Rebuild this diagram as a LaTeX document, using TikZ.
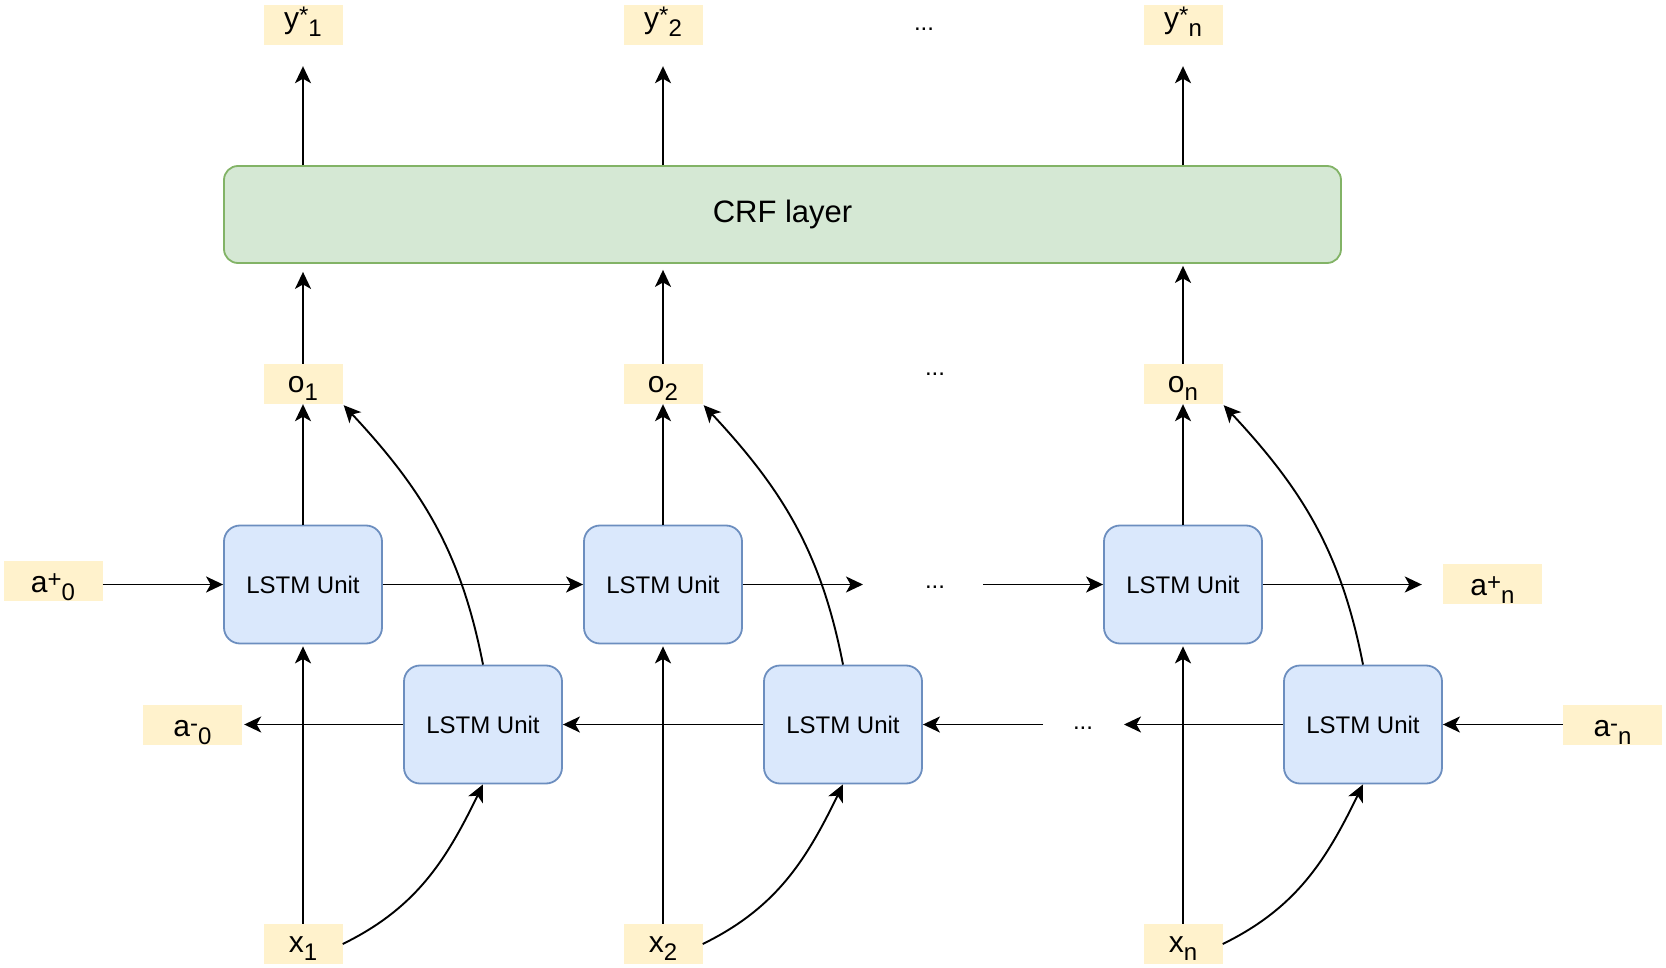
\documentclass[tikz,border=0pt]{standalone}
\usepackage{fontspec}
\setmainfont{Liberation Sans}
\usetikzlibrary{arrows.meta}
\definecolor{labfill}{HTML}{FFF2CC}
\definecolor{lstmfill}{HTML}{DAE8FC}
\definecolor{lstmline}{HTML}{6C8EBF}
\definecolor{crffill}{HTML}{D5E8D4}
\definecolor{crfline}{HTML}{82B366}
\newcommand\mysub[1]{\raisebox{-8pt}{\fontsize{24}{24}\selectfont #1}}
\newcommand\mysup[1]{\raisebox{5pt}{\fontsize{24}{24}\selectfont #1}}
\tikzset{
  lab/.style={fill=labfill, inner sep=0pt, minimum width=79pt, minimum height=40pt,
    font=\fontsize{30}{30}\selectfont, text height=22pt, text depth=6pt},
  widelab/.style={lab, minimum width=99pt},
  lstm/.style={draw=lstmline, fill=lstmfill, line width=1.8pt, rounded corners=16pt,
    minimum width=158pt, minimum height=118pt, inner sep=0pt, font=\fontsize{24}{24}\selectfont},
  crf/.style={draw=crfline, fill=crffill, line width=1.8pt, rounded corners=14pt,
    minimum width=1117pt, minimum height=97pt, inner sep=0pt, font=\fontsize{31}{31}\selectfont},
  dotsnode/.style={inner sep=0pt, font=\fontsize{24}{24}\selectfont, anchor=base},
  arr/.style={line width=1.9pt, -{Stealth[length=17pt, width=16pt, inset=4.5pt]}},
}
\begin{document}
\begin{tikzpicture}[x=1pt, y=-1pt]
\useasboundingbox (0,0) rectangle (1666,968);
% top labels
\node[lab, text height=18pt, text depth=10pt] (y1) at (303,25) {y\mysup{*}\mysub{1}};
\node[lab, text height=18pt, text depth=10pt] (y2) at (663,25) {y\mysup{*}\mysub{2}};
\node[lab, text height=18pt, text depth=10pt] (yn) at (1183,25) {y\mysup{*}\mysub{n}};
\node[dotsnode] (dtop) at (924,31) {...};
% CRF
\node[crf] (crf) at (782.5,214.5) {CRF layer};
% o labels
\node[lab] (o1) at (303,384) {o\mysub{1}};
\node[lab] (o2) at (663,384) {o\mysub{2}};
\node[lab] (on) at (1183,384) {o\mysub{n}};
\node[dotsnode] (dmid) at (935,375) {...};
% LSTM units
\node[lstm] (t1) at (303,584.5) {LSTM Unit};
\node[lstm] (t2) at (663,584.5) {LSTM Unit};
\node[lstm] (tn) at (1183,584.5) {LSTM Unit};
\node[lstm] (b1) at (483,724.5) {LSTM Unit};
\node[lstm] (b2) at (843,724.5) {LSTM Unit};
\node[lstm] (bn) at (1363,724.5) {LSTM Unit};
\node[dotsnode] (drow) at (935,588) {...};
\node[dotsnode] (dbot) at (1083,729) {...};
% side labels
\node[widelab, text height=24pt, text depth=2pt] (a0p) at (53,581) {a\mysup{+}\mysub{0}};
\node[widelab, text height=24pt, text depth=2pt] (a0m) at (192.5,725) {a\mysup{-}\mysub{0}};
\node[widelab, text height=24pt, text depth=2pt] (anp) at (1492.5,584) {a\mysup{+}\mysub{n}};
\node[widelab, text height=24pt, text depth=2pt] (anm) at (1612.5,725) {a\mysup{-}\mysub{n}};
% x labels
\node[lab] (x1) at (303,944) {x\mysub{1}};
\node[lab] (x2) at (663,944) {x\mysub{2}};
\node[lab] (xn) at (1183,944) {x\mysub{n}};
% free ends
\coordinate (rowA) at (863,584.5);
\coordinate (rowB) at (983,584.5);
\coordinate (botA) at (1043,724.5);
\coordinate (botB) at (1124,724.5);
% CRF -> y*
\draw[arr, shorten >=21pt] (y1 |- crf.north) -- (y1.south);
\draw[arr, shorten >=21pt] (y2 |- crf.north) -- (y2.south);
\draw[arr, shorten >=21pt] (yn |- crf.north) -- (yn.south);
% o -> CRF
\draw[arr, shorten >=8pt] (o1.north) -- (o1 |- crf.south);
\draw[arr, shorten >=6pt] (o2.north) -- (o2 |- crf.south);
\draw[arr, shorten >=2pt] (on.north) -- (on |- crf.south);
% LSTM top -> o
\draw[arr] (t1.north) -- (o1.south);
\draw[arr] (t2.north) -- (o2.south);
\draw[arr] (tn.north) -- (on.south);
% x -> LSTM top
\draw[arr, shorten >=2pt] (x1.north) -- (t1.south);
\draw[arr, shorten >=2pt] (x2.north) -- (t2.south);
\draw[arr, shorten >=2pt] (xn.north) -- (tn.south);
% forward row
\draw[arr] (a0p.east |- t1) -- (t1.west);
\draw[arr] (t1.east) -- (t2.west);
\draw[arr] (t2.east) -- (rowA);
\draw[arr] (rowB) -- (tn.west);
\draw[arr, shorten >=21pt] (tn.east) -- (tn.east -| anp.west);
% backward row
\draw[arr, shorten >=2pt] (b1.west) -- (b1.west -| a0m.east);
\draw[arr] (b2.west) -- (b1.east);
\draw[arr] (botA) -- (b2.east);
\draw[arr] (bn.west) -- (botB);
\draw[arr] (anm.west |- bn) -- (bn.east);
% curves x -> bottom LSTM
\draw[arr] (x1.east) to[out=26, in=-116] (b1.south);
\draw[arr] (x2.east) to[out=26, in=-116] (b2.south);
\draw[arr] (xn.east) to[out=26, in=-116] (bn.south);
% curves bottom LSTM -> o
\draw[arr] (b1.north) to[out=101, in=-47] ([shift={(1,1)}]o1.south east);
\draw[arr] (b2.north) to[out=101, in=-47] ([shift={(1,1)}]o2.south east);
\draw[arr] (bn.north) to[out=101, in=-47] ([shift={(1,1)}]on.south east);
\end{tikzpicture}
\end{document}
